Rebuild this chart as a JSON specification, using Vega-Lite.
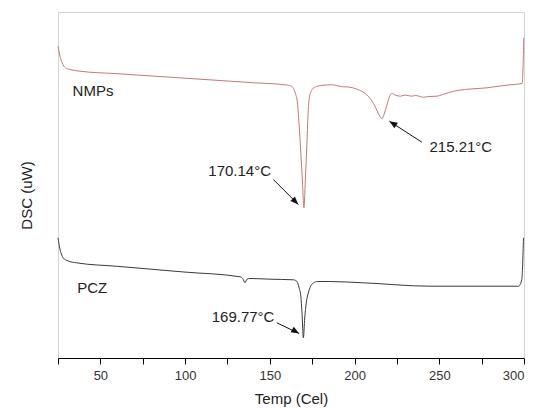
{
  "$schema": "https://vega.github.io/schema/vega-lite/v6.json",
  "autosize": "none",
  "width": 466,
  "height": 346,
  "padding": {"left": 58, "top": 12, "right": 18, "bottom": 50},
  "background": "white",
  "config": {
    "font": "Liberation Sans",
    "view": {"stroke": "#d4d4d4", "strokeWidth": 1}
  },
  "datasets": {
    "curves": [
      {"T": 25, "dsc": 311.8, "sample": "NMPs"},
      {"T": 26, "dsc": 303, "sample": "NMPs"},
      {"T": 27.5, "dsc": 295, "sample": "NMPs"},
      {"T": 29.4, "dsc": 290.2, "sample": "NMPs"},
      {"T": 32, "dsc": 288.5, "sample": "NMPs"},
      {"T": 37.9, "dsc": 286.8, "sample": "NMPs"},
      {"T": 60, "dsc": 284.3, "sample": "NMPs"},
      {"T": 100, "dsc": 279.8, "sample": "NMPs"},
      {"T": 140, "dsc": 275.3, "sample": "NMPs"},
      {"T": 160, "dsc": 273, "sample": "NMPs"},
      {"T": 163, "dsc": 271.5, "sample": "NMPs"},
      {"T": 165, "dsc": 265, "sample": "NMPs"},
      {"T": 166.3, "dsc": 255, "sample": "NMPs"},
      {"T": 167.2, "dsc": 235, "sample": "NMPs"},
      {"T": 168.3, "dsc": 205, "sample": "NMPs"},
      {"T": 169.3, "dsc": 175, "sample": "NMPs"},
      {"T": 170.14, "dsc": 150.2, "sample": "NMPs"},
      {"T": 171, "dsc": 180, "sample": "NMPs"},
      {"T": 171.8, "dsc": 210, "sample": "NMPs"},
      {"T": 172.6, "dsc": 245, "sample": "NMPs"},
      {"T": 173.5, "dsc": 262, "sample": "NMPs"},
      {"T": 175, "dsc": 268.5, "sample": "NMPs"},
      {"T": 177.5, "dsc": 271.5, "sample": "NMPs"},
      {"T": 180.4, "dsc": 272.5, "sample": "NMPs"},
      {"T": 186.5, "dsc": 273.2, "sample": "NMPs"},
      {"T": 193.3, "dsc": 271.2, "sample": "NMPs"},
      {"T": 196.7, "dsc": 271, "sample": "NMPs"},
      {"T": 201, "dsc": 269, "sample": "NMPs"},
      {"T": 205, "dsc": 266, "sample": "NMPs"},
      {"T": 209, "dsc": 260, "sample": "NMPs"},
      {"T": 212, "dsc": 252, "sample": "NMPs"},
      {"T": 214.5, "dsc": 243, "sample": "NMPs"},
      {"T": 216.1, "dsc": 239.3, "sample": "NMPs"},
      {"T": 217.5, "dsc": 244, "sample": "NMPs"},
      {"T": 219.1, "dsc": 253, "sample": "NMPs"},
      {"T": 220.5, "dsc": 261, "sample": "NMPs"},
      {"T": 222, "dsc": 264.5, "sample": "NMPs"},
      {"T": 224, "dsc": 263, "sample": "NMPs"},
      {"T": 227, "dsc": 261.8, "sample": "NMPs"},
      {"T": 230, "dsc": 263, "sample": "NMPs"},
      {"T": 233.5, "dsc": 261.8, "sample": "NMPs"},
      {"T": 236, "dsc": 262.5, "sample": "NMPs"},
      {"T": 240.7, "dsc": 260.8, "sample": "NMPs"},
      {"T": 244, "dsc": 261.5, "sample": "NMPs"},
      {"T": 248.6, "dsc": 261.8, "sample": "NMPs"},
      {"T": 252, "dsc": 263.5, "sample": "NMPs"},
      {"T": 258.5, "dsc": 266.8, "sample": "NMPs"},
      {"T": 265, "dsc": 268.5, "sample": "NMPs"},
      {"T": 270, "dsc": 269.2, "sample": "NMPs"},
      {"T": 278.2, "dsc": 270.2, "sample": "NMPs"},
      {"T": 285, "dsc": 271.8, "sample": "NMPs"},
      {"T": 292, "dsc": 273.2, "sample": "NMPs"},
      {"T": 298.9, "dsc": 274.5, "sample": "NMPs"},
      {"T": 299.9, "dsc": 320.2, "sample": "NMPs"},
      {"T": 25, "dsc": 120.2, "sample": "PCZ"},
      {"T": 26, "dsc": 110, "sample": "PCZ"},
      {"T": 27, "dsc": 104, "sample": "PCZ"},
      {"T": 28, "dsc": 100.2, "sample": "PCZ"},
      {"T": 31, "dsc": 97, "sample": "PCZ"},
      {"T": 35.9, "dsc": 95.2, "sample": "PCZ"},
      {"T": 60, "dsc": 91.7, "sample": "PCZ"},
      {"T": 100, "dsc": 85.9, "sample": "PCZ"},
      {"T": 132.4, "dsc": 81.2, "sample": "PCZ"},
      {"T": 134, "dsc": 79.5, "sample": "PCZ"},
      {"T": 135.4, "dsc": 75.2, "sample": "PCZ"},
      {"T": 136.5, "dsc": 78.8, "sample": "PCZ"},
      {"T": 138.3, "dsc": 79.5, "sample": "PCZ"},
      {"T": 150, "dsc": 78.8, "sample": "PCZ"},
      {"T": 164, "dsc": 78.2, "sample": "PCZ"},
      {"T": 166, "dsc": 76.5, "sample": "PCZ"},
      {"T": 167.3, "dsc": 70, "sample": "PCZ"},
      {"T": 168.3, "dsc": 62, "sample": "PCZ"},
      {"T": 169, "dsc": 45, "sample": "PCZ"},
      {"T": 169.8, "dsc": 20.2, "sample": "PCZ"},
      {"T": 170.6, "dsc": 40, "sample": "PCZ"},
      {"T": 171.5, "dsc": 55, "sample": "PCZ"},
      {"T": 172.7, "dsc": 65, "sample": "PCZ"},
      {"T": 174, "dsc": 71.5, "sample": "PCZ"},
      {"T": 175.7, "dsc": 75, "sample": "PCZ"},
      {"T": 178, "dsc": 76.5, "sample": "PCZ"},
      {"T": 185, "dsc": 76.5, "sample": "PCZ"},
      {"T": 205.2, "dsc": 75.2, "sample": "PCZ"},
      {"T": 244.6, "dsc": 71.8, "sample": "PCZ"},
      {"T": 296.8, "dsc": 71.8, "sample": "PCZ"},
      {"T": 298.7, "dsc": 78.5, "sample": "PCZ"},
      {"T": 299.7, "dsc": 120.2, "sample": "PCZ"}
    ],
    "labels": [
      {"T": 33.6, "dsc": 267.2, "text": "NMPs"},
      {"T": 36.3, "dsc": 69.7, "text": "PCZ"},
      {"T": 113.7, "dsc": 187.5, "text": "170.14°C"},
      {"T": 115.7, "dsc": 41.3, "text": "169.77°C"},
      {"T": 244.2, "dsc": 211, "text": "215.21°C"}
    ],
    "arrows": [
      {"name": "a1", "T": 152.1, "dsc": 178.5, "T2": 166.8, "dsc2": 153.5},
      {"name": "a2", "T": 239.7, "dsc": 215.8, "T2": 220.6, "dsc2": 236.8},
      {"name": "a3", "T": 154.1, "dsc": 35.2, "T2": 167.3, "dsc2": 24.5}
    ]
  },
  "layer": [
    {
      "data": {"name": "curves"},
      "mark": {"type": "line", "strokeWidth": 1, "interpolate": "monotone"},
      "encoding": {
        "x": {
          "field": "T", "type": "quantitative",
          "scale": {"domain": [25, 300], "nice": false, "zero": false},
          "axis": {
            "title": "Temp (Cel)",
            "values": [25, 50, 75, 100, 125, 150, 175, 200, 225, 250, 275, 300],
            "labelExpr": "datum.value % 50 == 0 ? datum.label : ''",
            "grid": false,
            "domainColor": "#000000",
            "tickColor": "#000000",
            "tickSize": 6,
            "labelPadding": 5,
            "labelFontSize": 13,
            "labelColor": "#333333",
            "labelFont": "Liberation Sans",
            "titleFont": "Liberation Sans",
            "titleFontSize": 15,
            "titleFontWeight": "normal",
            "titleColor": "#222222",
            "titleBaseline": "middle",
            "titleY": 40
          }
        },
        "y": {
          "field": "dsc", "type": "quantitative",
          "scale": {"domain": [0, 346], "nice": false, "zero": false},
          "axis": {
            "title": "DSC (uW)",
            "grid": false,
            "ticks": false,
            "labels": false,
            "domain": false,
            "titleFont": "Liberation Sans",
            "titleFontSize": 15,
            "titleFontWeight": "normal",
            "titleColor": "#222222",
            "titleAngle": -90,
            "titleBaseline": "middle",
            "titleAlign": "center",
            "titleX": -32,
            "titleY": 183
          }
        },
        "color": {
          "field": "sample", "type": "nominal",
          "scale": {"domain": ["NMPs", "PCZ"], "range": ["#c07a7a", "#3a3a3a"]},
          "legend": null
        },
        "detail": {"field": "sample"}
      }
    },
    {
      "data": {"name": "labels"},
      "mark": {"type": "text", "align": "left", "baseline": "middle", "fontSize": 15, "font": "Liberation Sans", "color": "#222222"},
      "encoding": {
        "x": {"field": "T", "type": "quantitative"},
        "y": {"field": "dsc", "type": "quantitative"},
        "text": {"field": "text"}
      }
    },
    {
      "data": {"name": "arrows"},
      "mark": {"type": "rule", "color": "#111111", "strokeWidth": 1},
      "encoding": {
        "x": {"field": "T", "type": "quantitative"},
        "y": {"field": "dsc", "type": "quantitative"},
        "x2": {"field": "T2"},
        "y2": {"field": "dsc2"}
      }
    },
    {
      "data": {"name": "arrows"},
      "transform": [{"filter": "datum.name == 'a1'"}],
      "mark": {"type": "point", "shape": "M0,0 L-0.8,2 L0.8,2 Z", "filled": true, "color": "#111111", "opacity": 1, "size": 64, "angle": 135},
      "encoding": {
        "x": {"field": "T2", "type": "quantitative"},
        "y": {"field": "dsc2", "type": "quantitative"}
      }
    },
    {
      "data": {"name": "arrows"},
      "transform": [{"filter": "datum.name == 'a2'"}],
      "mark": {"type": "point", "shape": "M0,0 L-0.8,2 L0.8,2 Z", "filled": true, "color": "#111111", "opacity": 1, "size": 64, "angle": 303},
      "encoding": {
        "x": {"field": "T2", "type": "quantitative"},
        "y": {"field": "dsc2", "type": "quantitative"}
      }
    },
    {
      "data": {"name": "arrows"},
      "transform": [{"filter": "datum.name == 'a3'"}],
      "mark": {"type": "point", "shape": "M0,0 L-0.8,2 L0.8,2 Z", "filled": true, "color": "#111111", "opacity": 1, "size": 64, "angle": 120},
      "encoding": {
        "x": {"field": "T2", "type": "quantitative"},
        "y": {"field": "dsc2", "type": "quantitative"}
      }
    }
  ]
}
